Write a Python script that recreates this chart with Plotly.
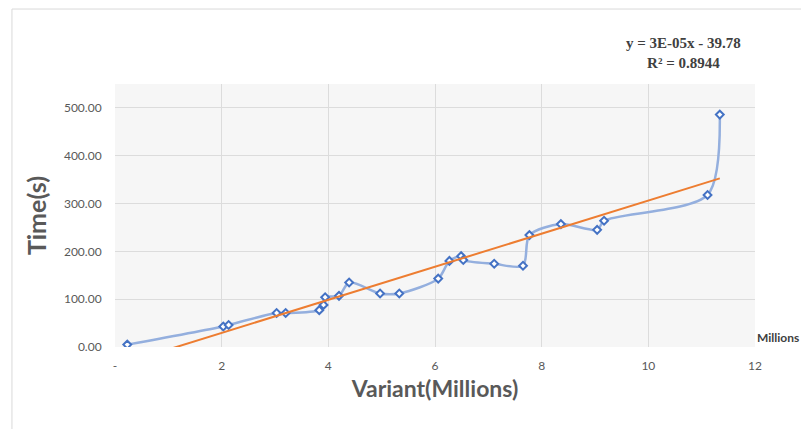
import numpy as np
import plotly.graph_objects as go

variants_millions = [0.23, 2.03, 2.13, 3.03, 3.20, 3.83, 3.91, 3.94, 4.20, 4.39,
                     4.97, 5.33, 6.06, 6.27, 6.49, 6.53, 7.11, 7.65, 7.77, 8.36,
                     9.04, 9.17, 11.11, 11.34]
times_s = [5, 43, 46, 71, 71, 77, 88, 104, 107, 135,
           112, 112, 143, 180, 190, 182, 174, 170, 234, 257,
           245, 264, 318, 486]

x_tickvals = [0, 2, 4, 6, 8, 10, 12]
x_ticktext = ["-", "2", "4", "6", "8", "10", "12"]
y_tickvals = [0, 100, 200, 300, 400, 500]
y_ticktext = ["0.00", "100.00", "200.00", "300.00", "400.00", "500.00"]

equation_text = "y = 3E-05x - 39.78<br>R² = 0.8944"
trend_intercept = -39.78

x = np.array(variants_millions)
y = np.array(times_s)
# keep the published intercept, least-squares slope through it
slope = float(np.sum(x * (y - trend_intercept)) / np.sum(x * x))
trend_x = [variants_millions[0], variants_millions[-1]]
trend_y = [trend_intercept + slope * v for v in trend_x]

fig = go.Figure()
fig.add_trace(go.Scatter(
    x=variants_millions, y=times_s, mode="lines+markers",
    line=dict(color="#94AFDE", width=2.5, shape="spline", smoothing=0.8),
    marker=dict(symbol="diamond", size=6, color="white",
                line=dict(color="#4472C4", width=2)),
    showlegend=False))
fig.add_trace(go.Scatter(
    x=trend_x, y=trend_y, mode="lines",
    line=dict(color="#ED7D31", width=2), showlegend=False))

axis_font = dict(family="Lato, Open Sans, sans-serif", size=12, color="#595959")
fig.update_layout(
    width=801, height=421,
    margin=dict(l=107, r=54, t=76, b=82),
    paper_bgcolor="white", plot_bgcolor="#F6F6F6",
    xaxis=dict(range=[0, 12], tickvals=x_tickvals, ticktext=x_ticktext,
               showgrid=True, gridcolor="#DCDCDC", gridwidth=1, zeroline=False,
               showline=False, ticks="outside", ticklen=8, tickcolor="rgba(0,0,0,0)",
               tickfont=axis_font,
               title=dict(text="<b>Variant(Millions)</b>", standoff=8,
                          font=dict(family="Lato, Open Sans, sans-serif", size=23, color="#595959"))),
    yaxis=dict(range=[0, 550], tickvals=y_tickvals, ticktext=y_ticktext,
               showgrid=True, gridcolor="#DCDCDC", gridwidth=1, zeroline=False,
               showline=False, ticks="outside", ticklen=10, tickcolor="rgba(0,0,0,0)",
               tickfont=axis_font,
               title=dict(text="<b>Time(s)</b>", standoff=10,
                          font=dict(family="Lato, Open Sans, sans-serif", size=25, color="#595959"))),
    shapes=[dict(type="rect", xref="paper", yref="paper", x0=-0.161, x1=1.3, y0=-0.5, y1=1.285,
                 line=dict(color="#D9D9D9", width=1), fillcolor="rgba(0,0,0,0)", layer="below")],
    annotations=[
        dict(text="<b>" + equation_text + "</b>", xref="paper", yref="paper",
             x=0.889, y=1.118, xanchor="center", yanchor="middle", showarrow=False,
             font=dict(family="Liberation Serif, Times New Roman, serif", size=15, color="#404040")),
        dict(text="<b>Millions</b>", xref="paper", yref="paper", x=1.0, y=0.035,
             xanchor="left", yanchor="middle", showarrow=False,
             font=dict(family="Lato, Open Sans, sans-serif", size=12, color="#404040")),
    ],
)
fig.write_html("out.html")
